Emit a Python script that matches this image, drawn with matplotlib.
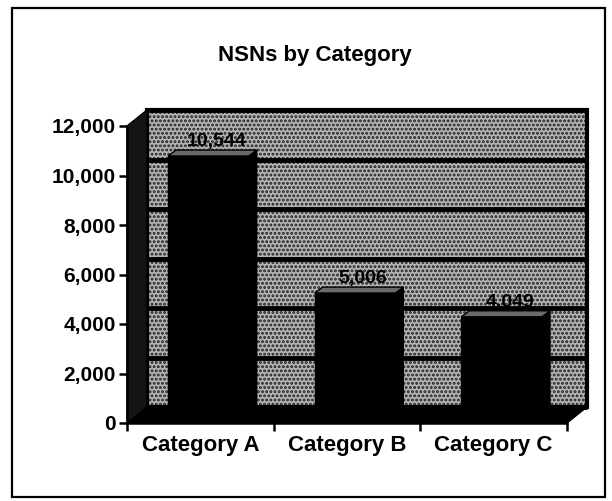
import matplotlib
matplotlib.use("Agg")
import matplotlib.pyplot as plt
from matplotlib.patches import Polygon, Rectangle
from matplotlib.transforms import IdentityTransform, ScaledTranslation

categories = ["Category A", "Category B", "Category C"]
nsn_counts = [10544, 5006, 4049]
value_labels = ["10,544", "5,006", "4,049"]
y_ticks = [0, 2000, 4000, 6000, 8000, 10000, 12000]
y_tick_labels = ["0", "2,000", "4,000", "6,000", "8,000", "10,000", "12,000"]

plt.rcParams["font.family"] = ["Liberation Sans", "DejaVu Sans"]
plt.rcParams["font.weight"] = "bold"
plt.rcParams["hatch.linewidth"] = 1.4

W, H = 612, 501
fig = plt.figure(figsize=(W / 100, H / 100), dpi=100)
fig.patch.set_facecolor("white")

# outer frame
fig.patches.append(Rectangle((12 / W, 4 / H), 593 / W, 489 / H, transform=fig.transFigure,
                             fill=False, edgecolor="black", linewidth=1.6))

# front plane of the 3-D chart
ax = fig.add_axes([127 / W, (H - 423) / H, 440 / W, 297 / H])
ax.set_xlim(0, 3)
ax.set_ylim(0, 12000)
ax.patch.set_visible(False)

depth = (20, 16)        # floor / wall depth in pixels
bar_front = (8, 6)
bar_back = (16, 12)
bar_width = 0.55


def px(x, y, off):
    p = ax.transData.transform((x, y))
    return (p[0] + off[0], p[1] + off[1])


def shifted(off):
    return ax.transData + ScaledTranslation(off[0] / 100, off[1] / 100, fig.dpi_scale_trans)


ident = IdentityTransform()

# back wall
ax.add_patch(Rectangle((0, 0), 3, 12000, transform=shifted(depth), facecolor="#b4b4b4",
                       edgecolor="#202020", hatch="....", linewidth=0, zorder=0, clip_on=False))
ax.add_patch(Rectangle((0, 0), 3, 12000, transform=shifted(depth), fill=False,
                       edgecolor="black", linewidth=3, zorder=1.2, clip_on=False))
for t in y_ticks:
    ax.plot([0, 3], [t, t], color="black", linewidth=3.5, transform=shifted(depth),
            zorder=1, clip_on=False, solid_capstyle="butt")

# left wall
lw = [px(0, 0, (0, 0)), px(0, 0, depth), px(0, 12000, depth), px(0, 12000, (0, 0))]
ax.add_patch(Polygon(lw, closed=True, transform=ident, facecolor="#141414",
                     edgecolor="black", linewidth=1, zorder=1.5, clip_on=False))

# floor
fl = [px(0, 0, (0, 0)), px(3, 0, (0, 0)), px(3, 0, depth), px(0, 0, depth)]
ax.add_patch(Polygon(fl, closed=True, transform=ident, facecolor="black",
                     edgecolor="black", linewidth=1, zorder=2, clip_on=False))

# 3-D columns
for i, v in enumerate(nsn_counts):
    x0 = i + 0.5 - bar_width / 2
    x1 = i + 0.5 + bar_width / 2
    top = [px(x0, v, bar_front), px(x1, v, bar_front), px(x1, v, bar_back), px(x0, v, bar_back)]
    side = [px(x1, 0, bar_front), px(x1, 0, bar_back), px(x1, v, bar_back), px(x1, v, bar_front)]
    ax.add_patch(Polygon(side, closed=True, transform=ident, facecolor="black",
                         edgecolor="black", linewidth=1, zorder=3, clip_on=False))
    ax.add_patch(Polygon(top, closed=True, transform=ident, facecolor="#6a6a6a",
                         edgecolor="black", linewidth=1, zorder=3, clip_on=False))
    ax.bar(i + 0.5, v, width=bar_width, color="black", edgecolor="black",
           transform=shifted(bar_front), zorder=3.5, clip_on=False)
    ax.text(i + 0.5, v, value_labels[i], transform=shifted(bar_back), ha="center",
            va="bottom", fontsize=14, fontweight="bold", color="black", zorder=5)

# axes styling
for s in ["top", "right"]:
    ax.spines[s].set_visible(False)
ax.spines["left"].set_linewidth(1.8)
ax.spines["bottom"].set_linewidth(1.8)
ax.spines["left"].set_zorder(6)
ax.spines["bottom"].set_zorder(6)

ax.set_yticks(y_ticks)
ax.set_yticklabels(y_tick_labels, fontsize=15, fontweight="bold")
ax.tick_params(axis="y", direction="out", length=6, width=1.8, pad=2)

ax.set_xticks([0, 1, 2, 3])
ax.set_xticklabels([])
ax.set_xticks([0.5, 1.5, 2.5], minor=True)
ax.set_xticklabels(categories, minor=True, fontsize=16, fontweight="bold")
ax.tick_params(axis="x", which="major", direction="out", length=6, width=1.8)
ax.tick_params(axis="x", which="minor", length=0, pad=9)

fig.text(0.515, (H - 55) / H, "NSNs by Category", ha="center", va="center",
         fontsize=16, fontweight="bold")

fig.savefig("out.png", dpi=100)
